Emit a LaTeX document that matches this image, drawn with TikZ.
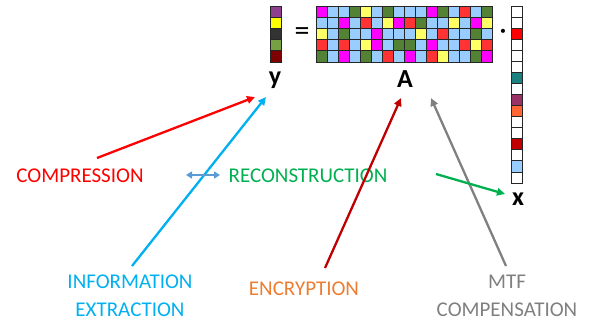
\documentclass[tikz,border=0pt]{standalone}
\usepackage{fontspec}
\setmainfont{Carlito}
\usetikzlibrary{arrows.meta}
\definecolor{cM}{HTML}{FF00FF}
\definecolor{cB}{HTML}{99CCFF}
\definecolor{cG}{HTML}{548235}
\definecolor{cY}{HTML}{FFFF66}
\definecolor{cR}{HTML}{FF3333}
\definecolor{cW}{HTML}{FFFFFF}
\definecolor{yP}{HTML}{8E3F8E}
\definecolor{yY}{HTML}{FFFF00}
\definecolor{yK}{HTML}{333333}
\definecolor{yG}{HTML}{77A043}
\definecolor{yD}{HTML}{7F0000}
\definecolor{xR}{HTML}{FF0000}
\definecolor{xT}{HTML}{1A8080}
\definecolor{xP}{HTML}{993366}
\definecolor{xO}{HTML}{FF6633}
\definecolor{xD}{HTML}{C00000}
\definecolor{xB}{HTML}{99CCFF}
\definecolor{xW}{HTML}{FFFFFF}
\definecolor{tRed}{HTML}{FF0000}
\definecolor{tGreen}{HTML}{00B050}
\definecolor{tCyan}{HTML}{00B0F0}
\definecolor{tOrange}{HTML}{ED7D31}
\definecolor{tDark}{HTML}{C00000}
\definecolor{tGray}{HTML}{808080}
\definecolor{tSteel}{HTML}{5B9BD5}
\begin{document}
\begin{tikzpicture}[x=1pt,y=-1pt,
  cell/.style={draw=black!85, line width=0.7pt},
  lbl/.style={font=\fontsize{21}{28}\selectfont, inner sep=0pt, align=center},
  var/.style={font=\fontsize{26}{30}\selectfont\bfseries, inner sep=0pt},
  arr/.style={line width=2.3pt, -{Triangle[length=8pt,width=7.5pt]}}]
\useasboundingbox (0,0) rectangle (592,322);
% matrix A
\foreach \row [count=\r from 0] in {
  {M,B,B,G,Y,B,G,B,B,B,M,G,B,R,B,G},
  {B,B,M,B,R,B,Y,M,R,G,B,B,Y,B,M,Y},
  {Y,B,G,B,B,M,B,B,B,Y,B,R,B,B,G,B},
  {R,B,R,B,Y,M,B,G,G,B,M,B,B,R,Y,R},
  {G,B,M,B,G,B,R,B,M,B,R,Y,B,B,G,M}}{
  \foreach \c [count=\i from 0] in \row {
    \filldraw[cell, fill=c\c] (316+11*\i, 6+11.2*\r) rectangle ++(11,11.2);
  }
}
% vector y
\foreach \c [count=\i from 0] in {P,Y,K,G,D} {
  \filldraw[cell, fill=y\c] (270.5, 6+11.2*\i) rectangle ++(11,11.2);
}
% vector x
\foreach \c [count=\i from 0] in {W,W,R,W,W,W,T,W,P,O,W,W,D,W,B,W} {
  \filldraw[cell, fill=x\c] (511.5, 6+11.06*\i) rectangle ++(11,11.06);
}
\node[font=\fontsize{30}{30}\selectfont, inner sep=0pt] (eq) at (302,34) {=};
\node[font=\fontsize{22}{22}\selectfont\bfseries, inner sep=0pt] (dot) at (503,33) {·};
\node[var, anchor=base] (ylab) at (275,84) {y};
\node[var, anchor=base] (Alab) at (405,87) {A};
\node[var, anchor=base] (xlab) at (518,205) {x};
% labels
\node[lbl, text=tRed] (comp) at (80,176) {COMPRESSION};
\node[lbl, text=tGreen] (recon) at (308,176) {RECONSTRUCTION};
\node[lbl, text=tCyan] (info) at (130,296) {INFORMATION\\EXTRACTION};
\node[lbl, text=tOrange] (enc) at (304,289) {ENCRYPTION};
\node[lbl, text=tGray] (mtf) at (507,296) {MTF\\COMPENSATION};
% connector coordinates
\coordinate (rs) at (97,158);   \coordinate (rt) at (255,97);
\coordinate (cs) at (132,266);  \coordinate (ct) at (266,97);
\coordinate (ds) at (325,268);  \coordinate (dt) at (401,98);
\coordinate (gs) at (506,266);  \coordinate (gt) at (431,98);
\coordinate (ns) at (436,174);  \coordinate (nt) at (505,194);
\coordinate (bl) at (186,175);  \coordinate (br) at (220,175);
\draw[arr, tRed] (rs) -- (rt);
\draw[arr, tCyan] (cs) -- (ct);
\draw[arr, tDark] (ds) -- (dt);
\draw[arr, tGray] (gs) -- (gt);
\draw[arr, tGreen] (ns) -- (nt);
\draw[tSteel, line width=1.8pt, {Triangle[length=6pt,width=7pt]}-{Triangle[length=6pt,width=7pt]}] (bl) -- (br);
\end{tikzpicture}
\end{document}
